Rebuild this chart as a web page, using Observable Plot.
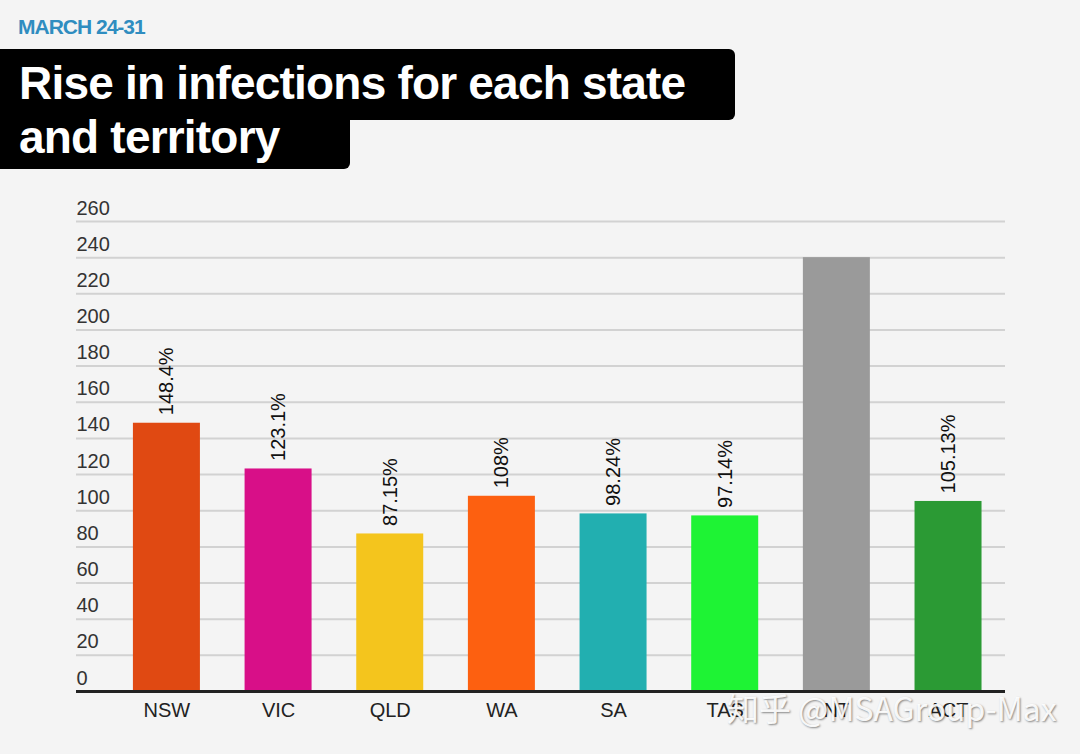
<!DOCTYPE html>
<html>
<head>
<meta charset="utf-8">
<script src="https://cdn.jsdelivr.net/npm/d3@7"></script>
<script src="https://cdn.jsdelivr.net/npm/@observablehq/plot@0.6"></script>
<style>
  html, body { margin: 0; padding: 0; background: #f4f4f4; }
  #page { position: relative; width: 1080px; height: 754px; background: #f4f4f4; overflow: hidden;
          font-family: "Liberation Sans", Arial, Helvetica, sans-serif; }
  #header { position: relative; width: 1080px; height: 180px; }
  #kicker { position: absolute; left: 18px; top: 15px; font-size: 21px; font-weight: bold; color: #2f8dc0; letter-spacing: -1px; }
  .box { position: absolute; left: 0; background: #000; color: #fff; font-weight: bold; font-size: 46px; letter-spacing: -0.8px; white-space: nowrap; }
  #box1 { top: 49px; width: 735px; height: 71px; border-radius: 0 6px 6px 0; }
  #box2 { top: 119px; width: 350px; height: 50px; border-radius: 0 0 6px 0; }
  .box span { position: absolute; left: 19px; }
  #box1 span { top: 7px; }
  #box2 span { top: -9px; }
  #chart { position: absolute; left: 0; top: 180px; }
  #wm { position: absolute; left: 727px; top: 684px; font-size: 32px; color: rgba(255,255,255,0.92);
        text-shadow: 1px 1px 2px rgba(0,0,0,0.45); font-family: "Noto Sans CJK SC", "Liberation Sans", sans-serif; white-space: nowrap; }
</style>
</head>
<body>
<div id="page">
  <div id="header">
    <div id="kicker">MARCH 24-31</div>
    <div class="box" id="box1"><span>Rise in infections for each state</span></div>
    <div class="box" id="box2"><span>and territory</span></div>
  </div>
  <div id="chart"></div>
  <div id="wm">知乎 @MSAGroup-Max</div>
</div>
<script>
const states = ["NSW", "VIC", "QLD", "WA", "SA", "TAS", "NT", "ACT"];
const rises = [148.4, 123.1, 87.15, 108, 98.24, 97.14, 240, 105.13];
const valueLabels = ["148.4%", "123.1%", "87.15%", "108%", "98.24%", "97.14%", "", "105.13%"];
const barColors = ["#e04912", "#d80f88", "#f4c51d", "#fd6010", "#22afb0", "#1ef334", "#9a9a9a", "#2b9a34"];
const yTicks = [0, 20, 40, 60, 80, 100, 120, 140, 160, 180, 200, 220, 240, 260];

const data = states.map((s, i) => ({state: s, value: rises[i], label: valueLabels[i], color: barColors[i]}));

const chart = Plot.plot({
  width: 1080,
  height: 574,
  marginLeft: 76,
  marginRight: 75,
  marginTop: 41,
  marginBottom: 63,
  style: {background: "transparent", fontFamily: "'Liberation Sans', Arial, Helvetica, sans-serif"},
  x: {domain: states, paddingInner: 0.4, paddingOuter: 0.36, align: 0.708, round: false, label: null},
  y: {domain: [0, 260], label: null, axis: null},
  marks: [
    Plot.ruleY(yTicks.filter(d => d > 0), {stroke: "#d2d2d2", strokeWidth: 2}),
    Plot.text(yTicks, {y: d => d, text: d => String(d), frameAnchor: "left", textAnchor: "start", lineAnchor: "bottom", dy: -7, fontSize: 20, fill: "#333"}),
    Plot.barY(data, {x: "state", y: "value", fill: "color"}),
    Plot.text(data, {x: "state", y: "value", text: "label", rotate: -90, textAnchor: "start", lineAnchor: "middle", dy: -8, fontSize: 20, fill: "#111"}),
    Plot.ruleY([0], {stroke: "#222", strokeWidth: 3}),
    Plot.axisX({tickSize: 0, tickPadding: 11, fontSize: 20, color: "#222", label: null})
  ]
});
document.getElementById("chart").appendChild(chart);
</script>
</body>
</html>
